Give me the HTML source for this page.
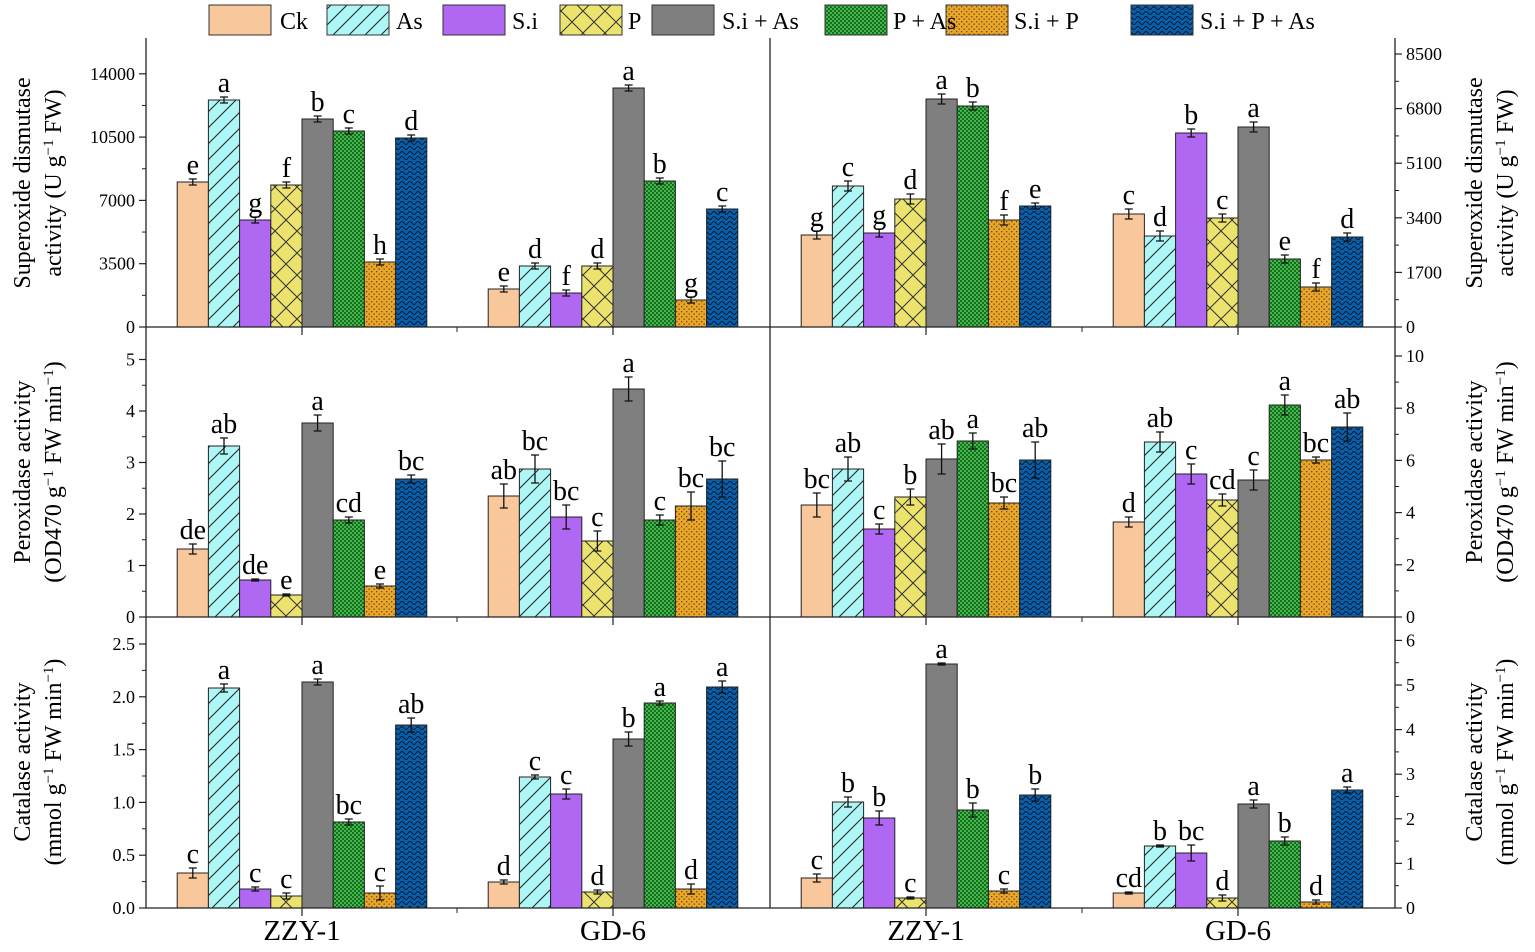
<!DOCTYPE html>
<html><head><meta charset="utf-8"><style>
html,body{margin:0;padding:0;background:#fff;}
svg,svg text{font-family:"Liberation Serif","DejaVu Serif",serif;}
</style></head><body>
<svg id="s" width="1535" height="947" xmlns="http://www.w3.org/2000/svg" font-family="Liberation Serif, serif">
<defs>
<pattern id="pAs" width="16" height="16" patternUnits="userSpaceOnUse"><rect width="16" height="16" fill="#aef6f6"/><path d="M-4,20 L20,-4 M-4,4 L4,-4 M12,20 L20,12" stroke="#222" stroke-width="1"/></pattern>
<pattern id="pP" width="22" height="22" patternUnits="userSpaceOnUse"><rect width="22" height="22" fill="#ece36e"/><path d="M0,0 L22,22 M22,0 L0,22" stroke="#333" stroke-width="1"/></pattern>
<pattern id="pPAs" width="4" height="4" patternUnits="userSpaceOnUse"><rect width="4" height="4" fill="#3dbb46"/><rect width="2" height="2" fill="#1d6a25"/><rect x="2" y="2" width="2" height="2" fill="#1d6a25"/></pattern>
<pattern id="pSiP" width="5" height="5" patternUnits="userSpaceOnUse"><rect width="5" height="5" fill="#e9a62a"/><rect x="1" y="1" width="1.3" height="1.3" fill="#6b4a10"/><rect x="3.5" y="3.5" width="1.3" height="1.3" fill="#6b4a10"/></pattern>
<pattern id="pAll" width="8" height="5" patternUnits="userSpaceOnUse"><rect width="8" height="5" fill="#0a5ea8"/><path d="M0,3 Q2,0 4,3 T8,3" stroke="#021a33" stroke-width="1" fill="none"/></pattern>
</defs>
<g id="g" font-family="Liberation Serif, serif"></g>
</svg>
<script>
var g=document.getElementById('g'),h='';
var FF=' font-family="Liberation Serif, serif"';
var fills=['#f8c79b','url(#pAs)','#b067f2','url(#pP)','#7f7f7f','url(#pPAs)','url(#pSiP)','url(#pAll)'];
var leg=[[209,280,'Ck'],[327,396,'As'],[443,512,'S.i'],[560,628,'P'],[652,722,'S.i + As'],[825,893,'P + As'],[946,1014,'S.i + P'],[1131,1200,'S.i + P + As']];
leg.forEach(function(l,i){h+='<rect x="'+l[0]+'" y="5" width="62" height="30" fill="'+fills[i]+'" stroke="#333" stroke-width="1"/>';});
leg.forEach(function(l,i){h+='<text'+FF+' x="'+l[1]+'" y="29" font-size="24">'+l[2]+'</text>';});
var cg=[302,613,926,1238],bw=31.2;
var tops=[
[[182,100,220,185,119,131,262,138],[289,266,293,266,88,181,300,209],[235,186,233,199,99,106,220,206],[214,236,133,218,127,259,287,237]],
[[549,446,580,595,423,520,586,479],[496,469,517,541,389,520,506,479],[505,469,529,497,459,441,503,460],[522,442,474,500,480,405,460,427]],
[[873,688,889,896,682,822,893,725],[882,777,794,892,739,703,889,687],[878,802,818,898,664,810,891,795],[893,846,853,898,804,841,902,790]]];
var errs=[
[[3,3,3,3,3,3,3,3],[3,3,3,3,3,3,3,3],[4,5,4,5,5,4,5,3],[5,5,4,4,5,4,4,4]],
[[5,8,1,1,8,3,2,4],[12,14,12,10,12,5,14,18],[12,12,5,8,15,8,6,18],[5,10,10,6,10,10,3,14]],
[[5,4,2,3,3,3,7,7],[2,2,5,2,7,2,5,6],[4,5,7,1,1,7,2,6],[1,1,8,3,4,4,2,3]]];
var lets=[
[['e','a','g','f','b','c','h','d'],['e','d','f','d','a','b','g','c'],['g','c','g','d','a','b','f','e'],['c','d','b','c','a','e','f','d']],
[['de','ab','de','e','a','cd','e','bc'],['ab','bc','bc','c','a','c','bc','bc'],['bc','ab','c','b','ab','a','bc','ab'],['d','ab','c','cd','c','a','bc','ab']],
[['c','a','c','c','a','bc','c','ab'],['d','c','c','d','b','a','d','a'],['c','b','b','c','a','b','c','b'],['cd','b','bc','d','a','b','d','a']]];
var base=[327,617,908];
for(var p=0;p<3;p++)for(var gi=0;gi<4;gi++)for(var i=0;i<8;i++){
 var x=cg[gi]-4*bw+i*bw,t=tops[p][gi][i],b=base[p],e=errs[p][gi][i],cx=x+bw/2;
 h+='<rect x="'+x.toFixed(1)+'" y="'+t+'" width="'+bw+'" height="'+(b-t)+'" fill="'+fills[i]+'" stroke="#222" stroke-width="1"/>';
 h+='<path d="M'+cx+','+(t-e)+'V'+(t+e)+'M'+(cx-4)+','+(t-e)+'h8M'+(cx-4)+','+(t+e)+'h8" stroke="#111" stroke-width="1.3"/>';
 h+='<text'+FF+' x="'+cx+'" y="'+(t-e-5)+'" font-size="28" text-anchor="middle">'+lets[p][gi][i]+'</text>';
}
h+='<path d="M146,38V908H1395V38M770,327V908M770,38V327M146,327H1395M146,617H1395" stroke="#222" stroke-width="1.3" fill="none"/>';
function ticks(x,dir,b,step,n,lab){for(var k=0;k<n;k++){var y=b-k*step;h+='<path d="M'+x+','+y+'h'+(dir*7)+'" stroke="#222" stroke-width="1.2"/>';if(k<n-1)h+='<path d="M'+x+','+(y-step/2)+'h'+(dir*4)+'" stroke="#222"/>';h+='<text'+FF+' x="'+(x+dir*11)+'" y="'+(y+6)+'" font-size="18" text-anchor="'+(dir<0?'end':'start')+'">'+lab[k]+'</text>';}}
ticks(146,-1,327,63.3,5,['0','3500','7000','10500','14000']);
ticks(146,-1,617,51.5,6,['0','1','2','3','4','5']);
ticks(146,-1,908,52.8,6,['0.0','0.5','1.0','1.5','2.0','2.5']);
ticks(1395,1,327,54.6,6,['0','1700','3400','5100','6800','8500']);
ticks(1395,1,617,52.2,6,['0','2','4','6','8','10']);
ticks(1395,1,908,44.6,7,['0','1','2','3','4','5','6']);
cg.forEach(function(c){h+='<path d="M'+c+',327v8M'+c+',617v8M'+c+',908v8" stroke="#222" stroke-width="1.2"/>';});
[457,1082].forEach(function(c){h+='<path d="M'+c+',327v5M'+c+',617v5M'+c+',908v5" stroke="#222"/>';});
['ZZY-1','GD-6','ZZY-1','GD-6'].forEach(function(t,i){h+='<text'+FF+' x="'+cg[i]+'" y="940" font-size="29" text-anchor="middle">'+t+'</text>';});
var sup='<tspan baseline-shift="super" font-size="15">−1</tspan>';
function yl2(x,y,l1,l2){h+='<g transform="translate('+x+','+y+') rotate(-90)"><text'+FF+' x="0" y="0" font-size="24" text-anchor="middle">'+l1+'</text><text'+FF+' x="0" y="31" font-size="24" text-anchor="middle">'+l2+'</text></g>';}
yl2(30,183,'Superoxide dismutase','activity (U g'+sup+' FW)');
yl2(30,472,'Peroxidase activity','(OD470 g'+sup+' FW min'+sup+')');
yl2(30,762,'Catalase activity','(mmol g'+sup+' FW min'+sup+')');
yl2(1482,183,'Superoxide dismutase','activity (U g'+sup+' FW)');
yl2(1482,472,'Peroxidase activity','(OD470 g'+sup+' FW min'+sup+')');
yl2(1482,762,'Catalase activity','(mmol g'+sup+' FW min'+sup+')');
g.innerHTML=h;
</script>
</body></html>
